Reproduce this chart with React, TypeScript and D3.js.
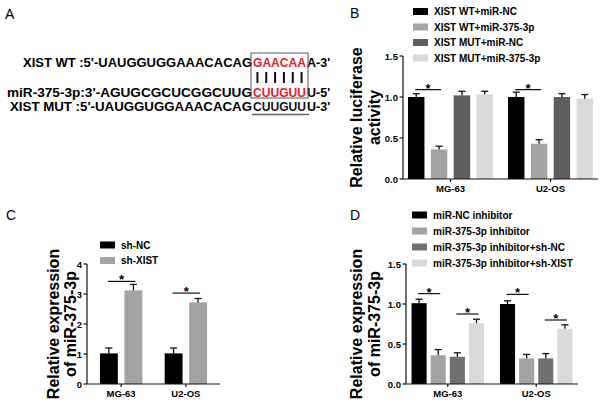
import React from 'react';
import * as d3 from 'd3';

const FONT = "'Liberation Sans', Arial, sans-serif";

const groups = ['MG-63', 'U2-OS'];

// panel A sequences
const seqPrefix = ["XIST WT :5'-UAUGGUGGAAACACAG", "miR-375-3p:3'-AGUGCGCUCGGCUUG", "XIST MUT :5'-UAUGGUGGAAACACAG"];
const seqSite = ['GAACAA', 'CUUGUU', 'CUUGUU'];
const seqTail = ["A-3'", "U-5'", "U-3'"];

// panel B
const bSeries = ['XIST WT+miR-NC', 'XIST WT+miR-375-3p', 'XIST MUT+miR-NC', 'XIST MUT+miR-375-3p'];
const bMean = [[1.0, 1.0], [0.36, 0.43], [1.02, 1.0], [1.03, 0.98]];
const bErr = [[0.04, 0.06], [0.04, 0.05], [0.05, 0.04], [0.04, 0.05]];
const bSig = [[0, 0, 1, 1.09], [1, 0, 1, 1.09]];
const bTicks = [0, 0.5, 1.0, 1.5];

// panel C
const cSeries = ['sh-NC', 'sh-XIST'];
const cMean = [[1.02, 1.02], [3.12, 2.72]];
const cErr = [[0.18, 0.18], [0.2, 0.13]];
const cSig = [[0, 0, 1, 3.42], [1, 0, 1, 3.03]];
const cTicks = [0, 1, 2, 3, 4];

// panel D
const dSeries = ['miR-NC inhibitor', 'miR-375-3p inhibitor', 'miR-375-3p inhibitor+sh-NC', 'miR-375-3p inhibitor+sh-XIST'];
const dMean = [[1.01, 1.0], [0.36, 0.32], [0.34, 0.32], [0.76, 0.69]];
const dErr = [[0.05, 0.04], [0.07, 0.05], [0.05, 0.06], [0.05, 0.05]];
const dSig = [[0, 0, 1, 1.13], [0, 2, 3, 0.875], [1, 0, 1, 1.12], [1, 2, 3, 0.8]];
const dTicks = [0, 0.5, 1.0, 1.5];

type PanelProps = {
  x0: number; x1: number; yTop: number; yBase: number; yMax: number;
  ticks: number[]; fmt: (v: number) => string;
  series: string[]; mean: number[][]; err: number[][]; sig: number[][];
  colors: string[]; pi: number; po: number; subPad: number;
  label: string[]; labelX: number[];
  legX: number; legY: number; legStep: number;
};

function BarPanel(p: PanelProps) {
  const y = d3.scaleLinear().domain([0, p.yMax]).range([p.yBase, p.yTop]);
  const x = d3.scaleBand().domain(groups).range([p.x0, p.x1]).paddingInner(p.pi).paddingOuter(p.po);
  const xs = d3.scaleBand<number>().domain(p.series.map((_, i) => i)).range([0, x.bandwidth()]).paddingInner(p.subPad);
  const cx = (g: number, i: number) => (x(groups[g]) as number) + (xs(i) as number) + xs.bandwidth() / 2;
  const yMid = (p.yTop + p.yBase) / 2;

  return (
    <g fontFamily={FONT} fontWeight="bold">
      {/* legend */}
      {p.series.map((s, i) => (
        <g key={s} transform={`translate(${p.legX},${p.legY + i * p.legStep})`}>
          <rect x={0} y={-3.5} width={15} height={7} fill={p.colors[i]} />
          <text x={21} y={3.6} fontSize={10}>{s}</text>
        </g>
      ))}
      {/* y label */}
      {p.label.map((l, i) => (
        <text key={l} transform={`translate(${p.labelX[i]},${yMid}) rotate(-90)`} textAnchor="middle" fontSize={16}>{l}</text>
      ))}
      {/* bars */}
      {p.series.map((s, i) => groups.map((g, gi) => {
        const v = p.mean[i][gi];
        const e = v + p.err[i][gi];
        const c = cx(gi, i);
        return (
          <g key={s + g}>
            <rect x={c - xs.bandwidth() / 2} y={y(v)} width={xs.bandwidth()} height={p.yBase - y(v)} fill={p.colors[i]} />
            <line x1={c} x2={c} y1={y(v)} y2={y(e)} stroke="#111" strokeWidth={1.3} />
            <line x1={c - 3.5} x2={c + 3.5} y1={y(e)} y2={y(e)} stroke="#111" strokeWidth={1.3} />
          </g>
        );
      }))}
      {/* significance */}
      {p.sig.map(([g, a, b, v], k) => {
        const xa = cx(g, a) - 1;
        const xb = cx(g, b) + 2;
        return (
          <g key={k}>
            <line x1={xa} x2={xb} y1={y(v)} y2={y(v)} stroke="#111" strokeWidth={1.2} />
            <text x={(xa + xb) / 2} y={y(v) + 3} textAnchor="middle" fontSize={13}>*</text>
          </g>
        );
      })}
      {/* y axis */}
      <line x1={p.x0} x2={p.x0} y1={p.yBase} y2={p.yTop} stroke="#111" strokeWidth={1.2} />
      {p.ticks.map((t) => (
        <g key={t}>
          <line x1={p.x0 - 3.5} x2={p.x0} y1={y(t)} y2={y(t)} stroke="#111" strokeWidth={1.2} />
          <text x={p.x0 - 5} y={y(t) + 3.5} textAnchor="end" fontSize={9.5}>{p.fmt(t)}</text>
        </g>
      ))}
      {/* x axis */}
      <line x1={p.x0} x2={p.x1} y1={p.yBase} y2={p.yBase} stroke="#111" strokeWidth={1.2} />
      {groups.map((g) => {
        const gx = (x(g) as number) + x.bandwidth() / 2;
        return (
          <g key={g}>
            <line x1={gx} x2={gx} y1={p.yBase} y2={p.yBase + 3} stroke="#111" strokeWidth={1.2} />
            <text x={gx} y={p.yBase + 13} textAnchor="middle" fontSize={9.5}>{g}</text>
          </g>
        );
      })}
    </g>
  );
}

function SeqPanel() {
  const siteX = 253;
  const siteW = 53;
  const base = [67, 96.5, 110.5];
  const start = [23, 7, 10];
  return (
    <g fontFamily={FONT} fontWeight="bold" fontSize={12.5}>
      {seqPrefix.map((s, i) => (
        <g key={i}>
          <text x={start[i]} y={base[i]} textLength={siteX - 1 - start[i]} lengthAdjust="spacingAndGlyphs">{s}</text>
          <text x={siteX} y={base[i]} textLength={siteW} lengthAdjust="spacingAndGlyphs" fill={i < 2 ? '#e8202a' : '#111'}>{seqSite[i]}</text>
          <text x={siteX + siteW + 1} y={base[i]}>{seqTail[i]}</text>
        </g>
      ))}
      {d3.range(6).map((k) => {
        const lx = siteX + (k + 0.5) * (siteW / 6);
        return <line key={k} x1={lx} x2={lx} y1={72} y2={83} stroke="#111" strokeWidth={2} />;
      })}
      <rect x={siteX - 2} y={53} width={siteW + 4} height={45} fill="none" stroke="#555" strokeWidth={1} />
      <line x1={siteX - 1} x2={siteX + siteW + 3} y1={114.5} y2={114.5} stroke="#666" strokeWidth={1.5} />
    </g>
  );
}

export default function App() {
  const f1 = d3.format('.1f');
  const f0 = d3.format('d');
  return (
    <svg width={600} height={403} style={{ position: 'absolute', left: 0, top: 0, background: '#fff' }}>
      <rect width={600} height={403} fill="#fff" />
      <g fontFamily={FONT} fontSize={14}>
        <text x={5} y={19}>A</text>
        <text x={350} y={18}>B</text>
        <text x={6} y={220}>C</text>
        <text x={350} y={220}>D</text>
      </g>
      <SeqPanel />
      <BarPanel x0={403} x1={598} yTop={56} yBase={179} yMax={1.5} ticks={bTicks} fmt={f1}
        series={bSeries} mean={bMean} err={bErr} sig={bSig}
        colors={['#000000', '#a3a3a3', '#5e5e5e', '#d9d9d9']} pi={0.15} po={0.05} subPad={0.28}
        label={['Relative luciferase', 'activity']} labelX={[362, 380]}
        legX={413} legY={11.5} legStep={15.5} />
      <BarPanel x0={87} x1={220} yTop={264} yBase={384} yMax={4} ticks={cTicks} fmt={f0}
        series={cSeries} mean={cMean} err={cErr} sig={cSig}
        colors={['#000000', '#a3a3a3']} pi={0.345} po={0.2} subPad={0.27}
        label={['Relative expression', 'of miR-375-3p']} labelX={[59, 76]}
        legX={100} legY={245} legStep={15.5} />
      <BarPanel x0={406} x1={578} yTop={264} yBase={384} yMax={1.5} ticks={dTicks} fmt={f1}
        series={dSeries} mean={dMean} err={dErr} sig={dSig}
        colors={['#000000', '#a3a3a3', '#707070', '#d9d9d9']} pi={0.18} po={0.0625} subPad={0.21}
        label={['Relative expression', 'of miR-375-3p']} labelX={[362, 380]}
        legX={412} legY={215} legStep={16} />
    </svg>
  );
}
